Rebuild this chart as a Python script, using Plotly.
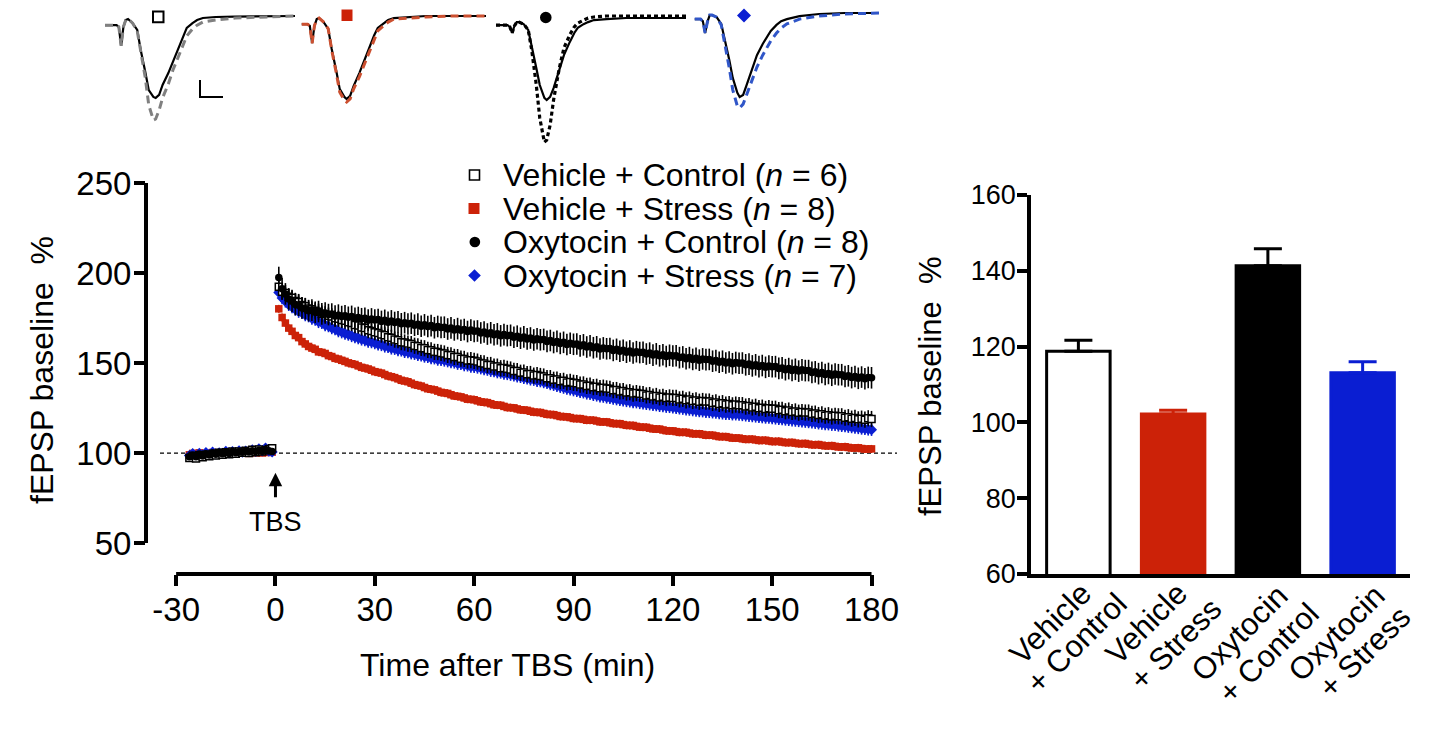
import plotly.graph_objects as go

W, H = 1442, 744
FONT = "Liberation Sans, Arial, Helvetica, sans-serif"
PAGE_OFFSET = 8  # default body margin of the html page

# ------------------------------------------------------------------ data
groups = ["Vehicle + Control", "Vehicle + Stress", "Oxytocin + Control", "Oxytocin + Stress"]
n_per_group = [6, 8, 8, 7]
fill_colors = ["#ffffff", "#cc2208", "#000000", "#0a1ed2"]
edge_colors = ["#000000", "#cc2208", "#000000", "#0a1ed2"]
marker_symbols = ["square", "square", "circle", "diamond"]

time_baseline = list(range(-26, 0))     # min before TBS
time_post = list(range(1, 181))         # min after TBS
time_ticks = [-30, 0, 30, 60, 90, 120, 150, 180]
time_tick_text = ["-30", "0", "30", "60", "90", "120", "150", "180"]

vc_base = [97.2, 98.5, 97.0, 98.8, 97.6, 99.1, 98.2, 99.5, 98.6, 100.2,
           99.0, 100.4, 99.3, 100.8, 99.6, 100.9, 100.1, 101.2, 100.0, 101.8,
           100.4, 102.0, 100.9, 101.5, 102.3, 102.6]
vs_base = [99.0, 99.8, 98.9, 100.1, 99.2, 99.8, 99.4, 100.3, 99.6, 100.0,
           99.5, 100.4, 99.8, 100.2, 99.7, 100.5, 100.0, 100.3, 99.8, 100.6,
           100.1, 100.4, 100.0, 100.7, 100.3, 100.5]
oc_base = [98.0, 98.8, 97.9, 99.5, 98.4, 99.6, 98.9, 100.1, 99.3, 100.4,
           99.6, 100.6, 99.8, 100.9, 100.2, 100.7, 100.4, 101.1, 100.6, 101.3,
           100.8, 101.6, 101.0, 101.9, 101.2, 100.9]
os_base = [98.6, 99.7, 98.2, 99.9, 98.8, 100.3, 99.1, 100.6, 99.5, 100.2,
           99.8, 101.0, 100.1, 100.8, 100.3, 101.3, 100.5, 101.1, 100.7, 101.8,
           100.9, 102.4, 101.2, 102.8, 101.0, 100.6]

vc_post = [192.3, 189.6, 188.9, 186.8, 186.2, 184.5, 183.9, 182.2, 181.6, 180.3,
           179.8, 179.1, 178.5, 177.4, 177.1, 176.3, 175.9, 174.8, 174.6, 173.9,
           173.5, 172.6, 172.2, 171.1, 170.8, 169.7, 169.4, 168.2, 167.8, 167.1,
           166.7, 165.8, 165.4, 164.3, 164.0, 163.0, 162.7, 161.6, 161.4, 160.8,
           160.5, 159.6, 159.3, 158.4, 158.2, 157.3, 157.1, 156.2, 156.1, 155.6,
           155.3, 154.5, 154.3, 153.4, 153.3, 152.4, 152.3, 151.4, 151.6, 151.2,
           150.8, 150.0, 149.8, 148.9, 148.9, 148.0, 148.0, 147.1, 147.3, 146.8,
           146.4, 145.6, 145.5, 144.6, 144.7, 143.8, 143.9, 143.0, 143.3, 142.8,
           142.5, 141.6, 141.6, 140.7, 140.8, 139.9, 140.1, 139.2, 139.5, 139.0,
           138.8, 138.0, 138.1, 137.3, 137.4, 136.6, 136.8, 136.0, 136.3, 135.9,
           135.7, 134.9, 135.0, 134.2, 134.4, 133.6, 133.8, 133.0, 133.3, 132.9,
           132.8, 132.0, 132.2, 131.4, 131.7, 130.9, 131.2, 130.5, 130.9, 130.6,
           130.6, 129.8, 130.1, 129.3, 129.7, 128.9, 129.2, 128.5, 128.9, 128.6,
           128.6, 127.8, 128.1, 127.3, 127.7, 126.9, 127.2, 126.5, 126.9, 126.6,
           126.6, 125.8, 126.1, 125.3, 125.7, 124.9, 125.2, 124.5, 124.9, 124.6,
           124.6, 123.8, 124.0, 123.2, 123.6, 122.8, 123.1, 122.4, 122.8, 122.5,
           122.5, 121.7, 121.9, 121.1, 121.5, 120.7, 121.0, 120.3, 120.7, 120.4,
           120.4, 119.6, 119.9, 119.1, 119.5, 118.7, 119.1, 118.5, 119.3, 118.9]
vs_post = [180.1, 175.3, 172.2, 169.4, 167.6, 165.3, 164.1, 161.9, 160.6, 159.2,
           158.3, 157.6, 156.2, 155.9, 155.3, 154.1, 153.6, 152.6, 152.2, 151.5,
           150.9, 150.1, 149.6, 149.2, 148.4, 147.6, 147.2, 146.7, 146.0, 145.2,
           144.8, 144.4, 143.6, 142.8, 142.4, 141.9, 141.2, 140.4, 140.0, 139.6,
           138.8, 138.0, 137.6, 137.2, 136.4, 135.7, 135.4, 135.1, 134.4, 133.7,
           133.4, 133.1, 132.4, 131.7, 131.5, 131.2, 130.6, 129.9, 129.8, 129.6,
           129.0, 128.4, 128.2, 128.0, 127.4, 126.8, 126.6, 126.5, 125.9, 125.3,
           125.2, 125.1, 124.5, 124.0, 123.9, 123.7, 123.2, 122.7, 122.6, 122.5,
           122.0, 121.5, 121.4, 121.3, 120.8, 120.3, 120.2, 120.1, 119.7, 119.2,
           119.1, 119.1, 118.7, 118.2, 118.2, 118.2, 117.8, 117.3, 117.3, 117.3,
           116.8, 116.4, 116.3, 116.3, 115.8, 115.4, 115.3, 115.3, 114.8, 114.4,
           114.3, 114.3, 113.8, 113.4, 113.3, 113.3, 112.8, 112.4, 112.3, 112.3,
           111.9, 111.5, 111.5, 111.5, 111.1, 110.7, 110.7, 110.7, 110.3, 109.9,
           109.9, 109.9, 109.5, 109.1, 109.1, 109.1, 108.7, 108.3, 108.3, 108.3,
           107.9, 107.6, 107.6, 107.7, 107.3, 107.0, 107.0, 107.1, 106.7, 106.4,
           106.4, 106.5, 106.1, 105.8, 105.8, 105.9, 105.5, 105.2, 105.2, 105.3,
           104.9, 104.6, 104.6, 104.7, 104.3, 104.0, 104.0, 104.1, 103.7, 103.4,
           103.4, 103.5, 103.1, 102.8, 102.8, 102.9, 102.5, 102.2, 102.2, 102.3]
oc_post = [197.5, 191.2, 188.4, 185.6, 184.3, 182.5, 182.1, 180.6, 180.2, 179.1,
           179.4, 178.2, 178.6, 177.3, 177.8, 176.9, 177.2, 176.1, 176.6, 175.8,
           176.2, 175.4, 175.9, 174.8, 175.3, 174.6, 174.9, 173.8, 174.5, 173.9,
           174.2, 173.1, 173.7, 172.6, 173.4, 172.5, 172.9, 171.8, 172.4, 171.7,
           172.1, 171.0, 171.6, 170.4, 171.2, 170.3, 170.8, 169.6, 170.3, 169.8,
           169.9, 168.9, 169.5, 168.4, 169.1, 168.2, 168.6, 167.5, 168.3, 167.6,
           167.8, 166.7, 167.2, 166.1, 166.8, 165.7, 166.2, 165.1, 165.8, 165.2,
           165.4, 164.3, 164.9, 163.8, 164.5, 163.4, 163.9, 162.8, 163.5, 162.9,
           163.1, 162.0, 162.5, 161.4, 162.0, 160.9, 161.5, 160.3, 161.0, 160.4,
           160.6, 159.5, 160.1, 158.9, 159.6, 158.5, 159.0, 157.8, 158.4, 157.9,
           158.1, 157.0, 157.6, 156.5, 157.1, 156.0, 156.7, 155.6, 156.3, 155.8,
           156.0, 155.0, 155.5, 154.4, 155.1, 154.0, 154.6, 153.6, 154.3, 153.9,
           154.0, 153.0, 153.4, 152.4, 153.0, 152.0, 152.6, 151.6, 152.3, 151.9,
           152.0, 151.0, 151.4, 150.4, 151.0, 150.0, 150.6, 149.6, 150.3, 149.9,
           150.0, 149.0, 149.4, 148.4, 149.0, 148.0, 148.6, 147.6, 148.3, 147.9,
           148.0, 147.0, 147.3, 146.3, 146.9, 145.9, 146.5, 145.5, 146.2, 145.8,
           145.8, 144.8, 145.1, 144.1, 144.7, 143.6, 144.2, 143.2, 143.9, 143.5,
           143.5, 142.5, 142.9, 141.9, 142.5, 141.5, 142.2, 141.3, 142.0, 141.8]
os_post = [189.2, 186.1, 184.3, 182.4, 181.2, 179.8, 178.6, 177.9, 176.7, 176.1,
           174.8, 174.2, 172.9, 172.4, 171.1, 170.6, 169.5, 168.9, 167.8, 167.2,
           166.4, 165.9, 165.1, 164.5, 163.9, 163.2, 162.8, 162.0, 161.7, 161.1,
           160.4, 160.1, 159.3, 159.0, 158.2, 158.0, 157.3, 157.1, 156.3, 156.1,
           155.5, 155.2, 154.6, 154.4, 153.7, 153.5, 152.8, 152.7, 152.0, 151.9,
           151.5, 151.1, 150.6, 150.4, 149.7, 149.6, 148.9, 148.8, 148.1, 148.0,
           147.6, 147.2, 146.7, 146.4, 145.8, 145.6, 145.0, 144.8, 144.2, 144.0,
           143.6, 143.2, 142.7, 142.4, 141.8, 141.6, 141.0, 140.8, 140.2, 140.0,
           139.5, 139.0, 138.4, 138.0, 137.4, 136.9, 136.4, 135.9, 135.5, 135.0,
           134.6, 134.1, 133.8, 133.2, 132.9, 132.4, 132.1, 131.6, 131.4, 131.0,
           130.7, 130.3, 130.0, 129.6, 129.4, 129.0, 128.8, 128.4, 128.3, 127.9,
           127.7, 127.4, 127.2, 126.8, 126.7, 126.3, 126.2, 125.8, 125.7, 125.4,
           125.2, 124.9, 124.7, 124.4, 124.2, 123.9, 123.7, 123.4, 123.3, 123.0,
           122.9, 122.7, 122.5, 122.3, 122.1, 121.9, 121.8, 121.6, 121.6, 121.4,
           121.2, 121.0, 120.8, 120.6, 120.4, 120.2, 120.0, 119.8, 119.7, 119.5,
           119.3, 119.1, 118.9, 118.7, 118.5, 118.3, 118.1, 117.9, 117.7, 117.5,
           117.3, 117.1, 116.9, 116.6, 116.5, 116.2, 116.1, 115.8, 115.7, 115.4,
           115.2, 115.0, 114.7, 114.5, 114.2, 114.0, 113.7, 113.5, 113.2, 113.0]

sem_baseline = [1.5, 1.0, 1.5, 1.2]
sem_post = [4.5, 2.2, 6.0, 3.5]

baseline_level = 100

# last-10-min summary (bar graph)
bar_label_top = ["Vehicle", "Vehicle", "Oxytocin", "Oxytocin"]
bar_label_bottom = ["+ Control", "+ Stress", "+ Control", "+ Stress"]
bar_means = [118.8, 102.2, 141.3, 113.1]
bar_sems = [2.9, 1.0, 4.5, 2.9]

# representative fEPSP traces (ms, mV)
trace_t = [0, 0.5, 1.0, 1.2, 1.4, 1.6, 1.8, 2.0, 2.4, 2.8, 3.1, 3.5, 3.8, 4.2, 4.4,
           4.7, 5.0, 5.5, 5.9, 6.4, 6.8, 7.1, 7.6, 8.0, 8.5, 9.6, 11.3, 13.5, 16.5]
tr_vc_pre = [-0.24, -0.24, -0.24, -0.29, -0.85, -0.29, -0.09, -0.06, -0.18, -0.38, -0.97, -1.62,
             -2.15, -2.35, -2.38, -2.29, -2.0, -1.65, -1.32, -0.88, -0.53, -0.32, -0.18, -0.09,
             -0.03, 0, 0.01, 0.01, 0.03]
tr_vc_post = [-0.24, -0.24, -0.24, -0.29, -0.85, -0.29, -0.09, -0.06, -0.18, -0.41, -1.03, -1.79,
              -2.59, -3.03, -3.0, -2.74, -2.38, -1.97, -1.56, -1.15, -0.79, -0.56, -0.35, -0.24,
              -0.15, -0.09, -0.03, 0, 0.03]
tr_vs_pre = [-0.24, -0.24, -0.24, -0.29, -0.80, -0.29, -0.09, -0.06, -0.18, -0.38, -0.97, -1.62,
             -2.15, -2.38, -2.44, -2.35, -2.06, -1.68, -1.32, -0.91, -0.56, -0.35, -0.21, -0.12,
             -0.06, -0.03, 0, 0, 0]
tr_vs_post = [-0.24, -0.24, -0.24, -0.29, -0.80, -0.29, -0.09, -0.06, -0.18, -0.38, -1.0, -1.68,
              -2.24, -2.47, -2.53, -2.44, -2.15, -1.79, -1.44, -1.03, -0.68, -0.44, -0.29, -0.18,
              -0.09, -0.06, -0.03, 0, 0]
tr_oc_pre = [-0.24, -0.24, -0.24, -0.29, -0.47, -0.26, -0.15, -0.15, -0.21, -0.38, -0.82, -1.5,
             -2.0, -2.38, -2.44, -2.35, -2.09, -1.56, -1.12, -0.74, -0.47, -0.32, -0.21, -0.15,
             -0.09, -0.06, -0.03, -0.03, -0.03]
tr_oc_post = [-0.24, -0.24, -0.24, -0.29, -0.47, -0.26, -0.15, -0.15, -0.21, -0.38, -0.97, -2.0,
              -2.97, -3.68, -3.62, -3.18, -2.44, -1.5, -0.91, -0.53, -0.29, -0.18, -0.09, -0.03,
              0, 0.03, 0.03, 0.03, 0.03]
tr_os_pre = [-0.18, -0.18, -0.18, -0.24, -0.59, -0.26, -0.06, -0.06, -0.12, -0.32, -0.74, -1.38,
             -1.91, -2.35, -2.47, -2.41, -2.12, -1.62, -1.24, -0.91, -0.71, -0.53, -0.35, -0.24,
             -0.18, -0.09, -0.03, 0, 0]
tr_os_post = [-0.18, -0.18, -0.18, -0.24, -0.59, -0.26, -0.06, -0.06, -0.12, -0.35, -0.85, -1.62,
              -2.26, -2.74, -2.79, -2.68, -2.41, -1.97, -1.59, -1.24, -1.0, -0.82, -0.59, -0.44,
              -0.32, -0.18, -0.09, -0.03, 0]
trace_post_colors = ["#808080", "#cc5030", "#000000", "#3056c8"]
trace_post_dash = ["8px,5px", "8px,5px", "4px,3px", "8px,5px"]


# ------------------------------------------------------------------ helpers
def PX(x):
    return (x - PAGE_OFFSET) / W


def PY(y):
    return 1 - (y - PAGE_OFFSET) / H


fig = go.Figure()

# ------------------------------------------------------------------ time course
base_sets = [vc_base, vs_base, oc_base, os_base]
post_sets = [vc_post, vs_post, oc_post, os_post]
draw_order = [1, 3, 0, 2]
marker_sizes = [7, 7.5, 7.5, 8.5]
for i in draw_order:
    ys = base_sets[i] + post_sets[i]
    errs = [sem_baseline[i]] * len(base_sets[i]) + [sem_post[i]] * len(post_sets[i])
    fig.add_trace(go.Scatter(
        x=time_baseline + time_post, y=ys, mode="markers", name=groups[i],
        marker=dict(symbol=marker_symbols[i], size=marker_sizes[i], color=fill_colors[i],
                    line=dict(color=edge_colors[i], width=1.5 if i == 0 else 0)),
        error_y=dict(type="data", array=errs, color=edge_colors[i], thickness=1.6, width=0),
        xaxis="x", yaxis="y", showlegend=False,
    ))

# ------------------------------------------------------------------ bar graph
for i in range(4):
    fig.add_trace(go.Bar(
        x=[i], y=[bar_means[i]], width=0.67, name=groups[i],
        marker=dict(color=fill_colors[i], line=dict(color=edge_colors[i], width=3)),
        error_y=dict(type="data", symmetric=False, array=[bar_sems[i]], arrayminus=[0],
                     color=edge_colors[i], thickness=3, width=14),
        xaxis="x2", yaxis="y2", showlegend=False,
    ))

# ------------------------------------------------------------------ insets
pre_sets = [tr_vc_pre, tr_vs_pre, tr_oc_pre, tr_os_pre]
postw_sets = [tr_vc_post, tr_vs_post, tr_oc_post, tr_os_post]
inset_left = [105, 296, 496, 689]
inset_zero = [17, 16, 17, 13]
inset_start = [0, 1, 0, 1]
for k in range(4):
    ax_id = k + 3
    s = inset_start[k]
    fig.add_trace(go.Scatter(x=trace_t[s:], y=pre_sets[k][s:], mode="lines",
                             line=dict(color="black", width=2.2),
                             xaxis=f"x{ax_id}", yaxis=f"y{ax_id}", showlegend=False))
    fig.add_trace(go.Scatter(x=trace_t[s:], y=postw_sets[k][s:], mode="lines",
                             line=dict(color=trace_post_colors[k], width=3.2 if k == 2 else 3,
                                       dash=trace_post_dash[k]),
                             xaxis=f"x{ax_id}", yaxis=f"y{ax_id}", showlegend=False))

layout_axes = {}
for k in range(4):
    ax_id = k + 3
    z = inset_zero[k]
    layout_axes[f"xaxis{ax_id}"] = dict(domain=[PX(inset_left[k]), PX(inset_left[k] + 190)],
                                        range=[0, 16.5], visible=False, anchor=f"y{ax_id}",
                                        automargin=False)
    layout_axes[f"yaxis{ax_id}"] = dict(domain=[PY(150), min(1.0, PY(0))],
                                        range=[-(150 - z) / 34, (z - 8) / 34], visible=False,
                                        anchor=f"x{ax_id}", automargin=False)

tick_font = dict(family=FONT, size=33, color="black")

fig.update_layout(
    width=W, height=H, margin=dict(l=0, r=0, t=0, b=0, pad=0, autoexpand=False),
    autosize=False,
    paper_bgcolor="white", plot_bgcolor="white",
    font=dict(family=FONT, color="black"),
    showlegend=False, barmode="overlay",
    xaxis=dict(domain=[PX(146), PX(900)], range=[-39.1, 188.6],
               tickvals=time_ticks, ticktext=time_tick_text,
               ticks="outside", ticklen=11, tickwidth=3.5, tickcolor="black",
               ticklabelstandoff=-5,
               showline=False, zeroline=False, showgrid=False, tickfont=tick_font,
               anchor="y", automargin=False),
    yaxis=dict(domain=[PY(574), PY(174)], range=[32.8, 255],
               tickvals=[50, 100, 150, 200, 250],
               ticks="outside", ticklen=11, tickwidth=3.5, tickcolor="black",
               ticklabelstandoff=-4,
               showline=False, zeroline=False, showgrid=False, tickfont=tick_font,
               anchor="x", automargin=False),
    xaxis2=dict(domain=[PX(1031), PX(1410)], range=[-0.5, 3.5],
                tickvals=[0, 1, 2, 3], showticklabels=False,
                ticks="", showline=True, linewidth=3.5, linecolor="black",
                zeroline=False, showgrid=False, anchor="y2", automargin=False),
    yaxis2=dict(domain=[PY(574), PY(195)], range=[60, 160],
                tickvals=[60, 80, 100, 120, 140, 160],
                ticks="outside", ticklen=10, tickwidth=3.5, tickcolor="black",
                ticklabelstandoff=-4,
                showline=True, linewidth=3.5, linecolor="black",
                zeroline=False, showgrid=False,
                tickfont=dict(family=FONT, size=27, color="black"), anchor="x2",
                automargin=False),
    **layout_axes,
)

shapes = []
# detached Prism-style axis lines for the time course
shapes.append(dict(type="line", xref="x domain", yref="y", x0=0, x1=0, y0=50, y1=250,
                   line=dict(color="black", width=4)))
shapes.append(dict(type="line", xref="x", yref="y domain", x0=-30, x1=180, y0=0, y1=0,
                   line=dict(color="black", width=4)))
# baseline reference line
shapes.append(dict(type="line", xref="paper", yref="y", x0=PX(160), x1=PX(897),
                   y0=baseline_level, y1=baseline_level,
                   line=dict(color="black", width=1.2, dash="4px,3px"), layer="below"))
# legend symbols
legend_y = [175, 208.5, 242, 275.5]
shapes.append(dict(type="rect", xref="paper", yref="paper", x0=PX(469.5), x1=PX(479.5),
                   y0=PY(legend_y[0] + 5), y1=PY(legend_y[0] - 5),
                   line=dict(color="black", width=1.6), fillcolor="white"))
shapes.append(dict(type="rect", xref="paper", yref="paper", x0=PX(468.5), x1=PX(479.5),
                   y0=PY(legend_y[1] + 5.5), y1=PY(legend_y[1] - 5.5),
                   line=dict(width=0), fillcolor=fill_colors[1]))
shapes.append(dict(type="circle", xref="paper", yref="paper", x0=PX(469.5), x1=PX(480.2),
                   y0=PY(legend_y[2] + 5.3), y1=PY(legend_y[2] - 5.3),
                   line=dict(width=0), fillcolor="black"))
cx, cy, h = 474.5, legend_y[3], 6.3
shapes.append(dict(type="path", xref="paper", yref="paper",
                   path=f"M {PX(cx)},{PY(cy - h)} L {PX(cx + h)},{PY(cy)} L {PX(cx)},{PY(cy + h)} L {PX(cx - h)},{PY(cy)} Z",
                   line=dict(width=0), fillcolor=fill_colors[3]))
# inset symbols
shapes.append(dict(type="rect", xref="paper", yref="paper", x0=PX(153), x1=PX(163.5),
                   y0=PY(22.3), y1=PY(11.5), line=dict(color="black", width=2), fillcolor="white"))
shapes.append(dict(type="rect", xref="paper", yref="paper", x0=PX(341.5), x1=PX(352.5),
                   y0=PY(21), y1=PY(9.5), line=dict(width=0), fillcolor=fill_colors[1]))
shapes.append(dict(type="circle", xref="paper", yref="paper", x0=PX(540), x1=PX(551.6),
                   y0=PY(23.3), y1=PY(11.7), line=dict(width=0), fillcolor="black"))
cx, cy, h = 744, 15.5, 7
shapes.append(dict(type="path", xref="paper", yref="paper",
                   path=f"M {PX(cx)},{PY(cy - h)} L {PX(cx + h)},{PY(cy)} L {PX(cx)},{PY(cy + h)} L {PX(cx - h)},{PY(cy)} Z",
                   line=dict(width=0), fillcolor=fill_colors[3]))
# scale bar
shapes.append(dict(type="path", xref="paper", yref="paper",
                   path=f"M {PX(200)},{PY(80)} L {PX(200)},{PY(97)} L {PX(223)},{PY(97)}",
                   line=dict(color="black", width=2)))
fig.update_layout(shapes=shapes)

ann = []
# legend text
for i in range(4):
    ann.append(dict(xref="paper", yref="paper", x=PX(501), y=PY(legend_y[i]),
                    xanchor="left", yanchor="middle", showarrow=False,
                    text=f"{groups[i]} (<i>n</i> = {n_per_group[i]})",
                    font=dict(family=FONT, size=32, color="black")))
# bar-graph category labels (two rotated lines each)
top_centers = [(1050, 623), (1146, 623), (1239, 633), (1336, 633)]
bottom_centers = [(1076, 643), (1175, 644), (1268, 653), (1364, 652)]
for i in range(4):
    for txt, (cx, cy) in ((bar_label_top[i], top_centers[i]), (bar_label_bottom[i], bottom_centers[i])):
        ann.append(dict(xref="paper", yref="paper", x=PX(cx), y=PY(cy), textangle=-45,
                        xanchor="center", yanchor="middle", showarrow=False, text=txt,
                        font=dict(family=FONT, size=31, color="black")))
# axis titles
ann.append(dict(xref="paper", yref="paper", x=PX(42), y=PY(370), textangle=-90,
                showarrow=False, xanchor="center", yanchor="middle",
                text="fEPSP baseline\u00a0 %", font=dict(family=FONT, size=32, color="black")))
ann.append(dict(xref="paper", yref="paper", x=PX(507), y=PY(665),
                showarrow=False, xanchor="center", yanchor="middle",
                text="Time after TBS (min)", font=dict(family=FONT, size=32, color="black")))
ann.append(dict(xref="paper", yref="paper", x=PX(930), y=PY(386), textangle=-90,
                showarrow=False, xanchor="center", yanchor="middle",
                text="fEPSP baseline\u00a0 %", font=dict(family=FONT, size=31, color="black")))
# TBS marker
ann.append(dict(xref="x", yref="y", x=0, y=89, ax=0, ay=26,
                text="", showarrow=True, arrowhead=2, arrowsize=0.9, arrowwidth=3,
                arrowcolor="black"))
ann.append(dict(xref="x", yref="paper", x=0, y=PY(522), showarrow=False,
                xanchor="center", yanchor="middle", text="TBS",
                font=dict(family=FONT, size=27, color="black")))
fig.update_layout(annotations=ann)

fig.write_html("out.html")
